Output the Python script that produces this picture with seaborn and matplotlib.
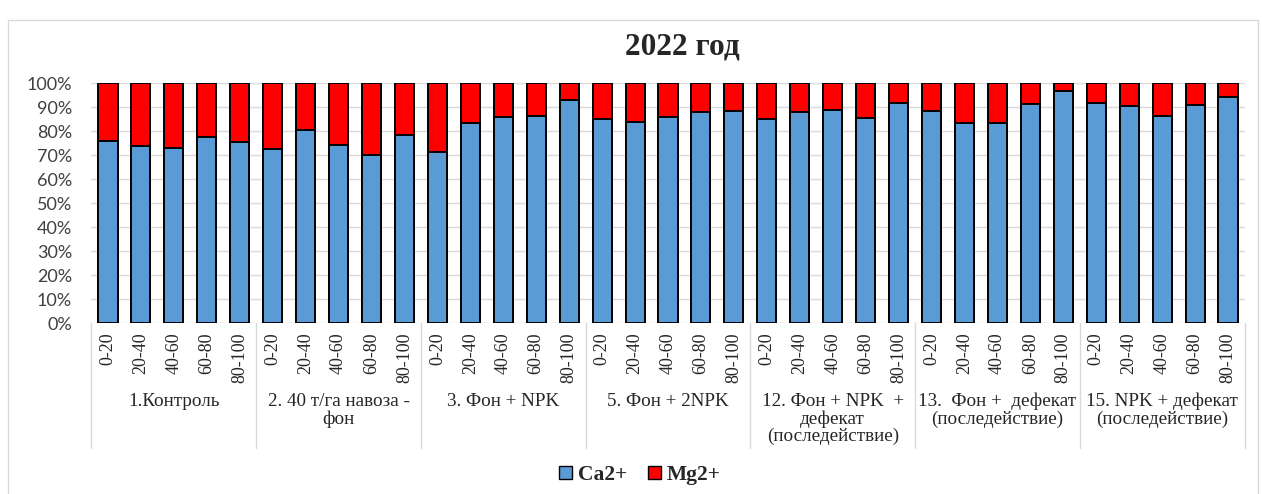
import pandas as pd
import matplotlib
matplotlib.use("Agg")
import matplotlib.pyplot as plt
from matplotlib.patches import Patch, Rectangle
import matplotlib.transforms as mtransforms
import seaborn as sns

# data (percent of exchangeable Ca2+ / Mg2+)
groups = ["1.Контроль", "2. 40 т/га навоза -\nфон", "3. Фон + NPK", "5. Фон + 2NPK",
          "12. Фон + NPK  +\nдефекат\n(последействие)",
          "13.  Фон +  дефекат\n(последействие)",
          "15. NPK + дефекат\n(последействие)"]
depths = ["0-20", "20-40", "40-60", "60-80", "80-100"]
ca = [75.8, 73.6, 73.0, 77.4, 75.5,
      72.4, 80.6, 74.1, 69.8, 78.4,
      71.1, 83.2, 86.0, 86.4, 92.8,
      85.2, 83.9, 85.7, 88.1, 88.4,
      85.2, 88.1, 88.6, 85.6, 91.8,
      88.4, 83.5, 83.5, 91.4, 96.8,
      91.7, 90.6, 86.3, 90.9, 94.3]
mg = [24.2, 26.4, 27.0, 22.6, 24.5,
      27.6, 19.4, 25.9, 30.2, 21.6,
      28.9, 16.8, 14.0, 13.6, 7.2,
      14.8, 16.1, 14.3, 11.9, 11.6,
      14.8, 11.9, 11.4, 14.4, 8.2,
      11.6, 16.5, 16.5, 8.6, 3.2,
      8.3, 9.4, 13.7, 9.1, 5.7]

blue = "#5B9BD5"
red = "#FF0000"

df = pd.DataFrame({
    "group": [g for g in groups for _ in depths],
    "depth": depths * len(groups),
    "Ca": ca,
    "Mg": mg,
})
df["id"] = [f"{i:02d}" for i in range(len(df))]
df["total"] = df["Ca"] + df["Mg"]

sns.set_style("white")
plt.rcParams["font.family"] = ["Liberation Serif", "DejaVu Serif"]

fig = plt.figure(figsize=(12.62, 4.94), dpi=100)
ax = fig.add_axes([91.5 / 1262, 1 - 323 / 494, 1153 / 1262, 240 / 494])

sns.barplot(data=df, x="id", y="total", color=red, saturation=1, width=0.58,
            edgecolor="black", linewidth=1.4, errorbar=None, ax=ax)
sns.barplot(data=df, x="id", y="Ca", color=blue, saturation=1, width=0.58,
            edgecolor="black", linewidth=1.4, errorbar=None, ax=ax)

ax.set_xlim(-0.5, len(df) - 0.5)
ax.set_ylim(0, 100)
ax.set_yticks(range(0, 101, 10))
ax.set_yticklabels([f"{v}%" for v in range(0, 101, 10)],
                   family=["Lato", "DejaVu Sans"], fontsize=13, color="#404040")
ax.set_xticks(range(len(df)))
ax.set_xticklabels(df["depth"], rotation=90, fontsize=13)
ax.tick_params(axis="x", length=0, pad=7)
ax.tick_params(axis="y", length=4, width=1, color="#d9d9d9", pad=10)
ax.set_xlabel("")
ax.set_ylabel("")
ax.yaxis.grid(True, color="#d9d9d9", lw=1)
ax.set_axisbelow(True)
for s in ax.spines.values():
    s.set_visible(False)

# group labels and separators below the axis
trans = mtransforms.blended_transform_factory(ax.transData, ax.transAxes)
for i, g in enumerate(groups):
    ax.text(i * 5 + 2, -0.29, g, transform=trans, ha="center", va="top",
            fontsize=13.8, linespacing=1.03)
for b in range(len(groups) + 1):
    ax.plot([b * 5 - 0.5, b * 5 - 0.5], [0, -0.52], transform=trans,
            color="#d9d9d9", lw=1, clip_on=False)

fig.text(682 / 1262, 1 - 47 / 494, "2022 год", ha="center", va="center",
         fontsize=22.5, fontweight="bold")

handles = [Patch(facecolor=blue, edgecolor="black", label="Ca2+"),
           Patch(facecolor=red, edgecolor="black", label="Mg2+")]
fig.legend(handles=handles, loc="center", bbox_to_anchor=(640 / 1262, 1 - 475 / 494),
           ncol=2, frameon=False, prop={"weight": "bold", "size": 15.5},
           handlelength=0.6, handleheight=0.6, handletextpad=0.25, columnspacing=1.0)

fig.add_artist(Rectangle((8 / 1262, -0.05), 1250 / 1262, 1.03 - 10 / 494,
                         transform=fig.transFigure, fill=False,
                         edgecolor="#d9d9d9", lw=1))

fig.savefig("out.png", dpi=100)
